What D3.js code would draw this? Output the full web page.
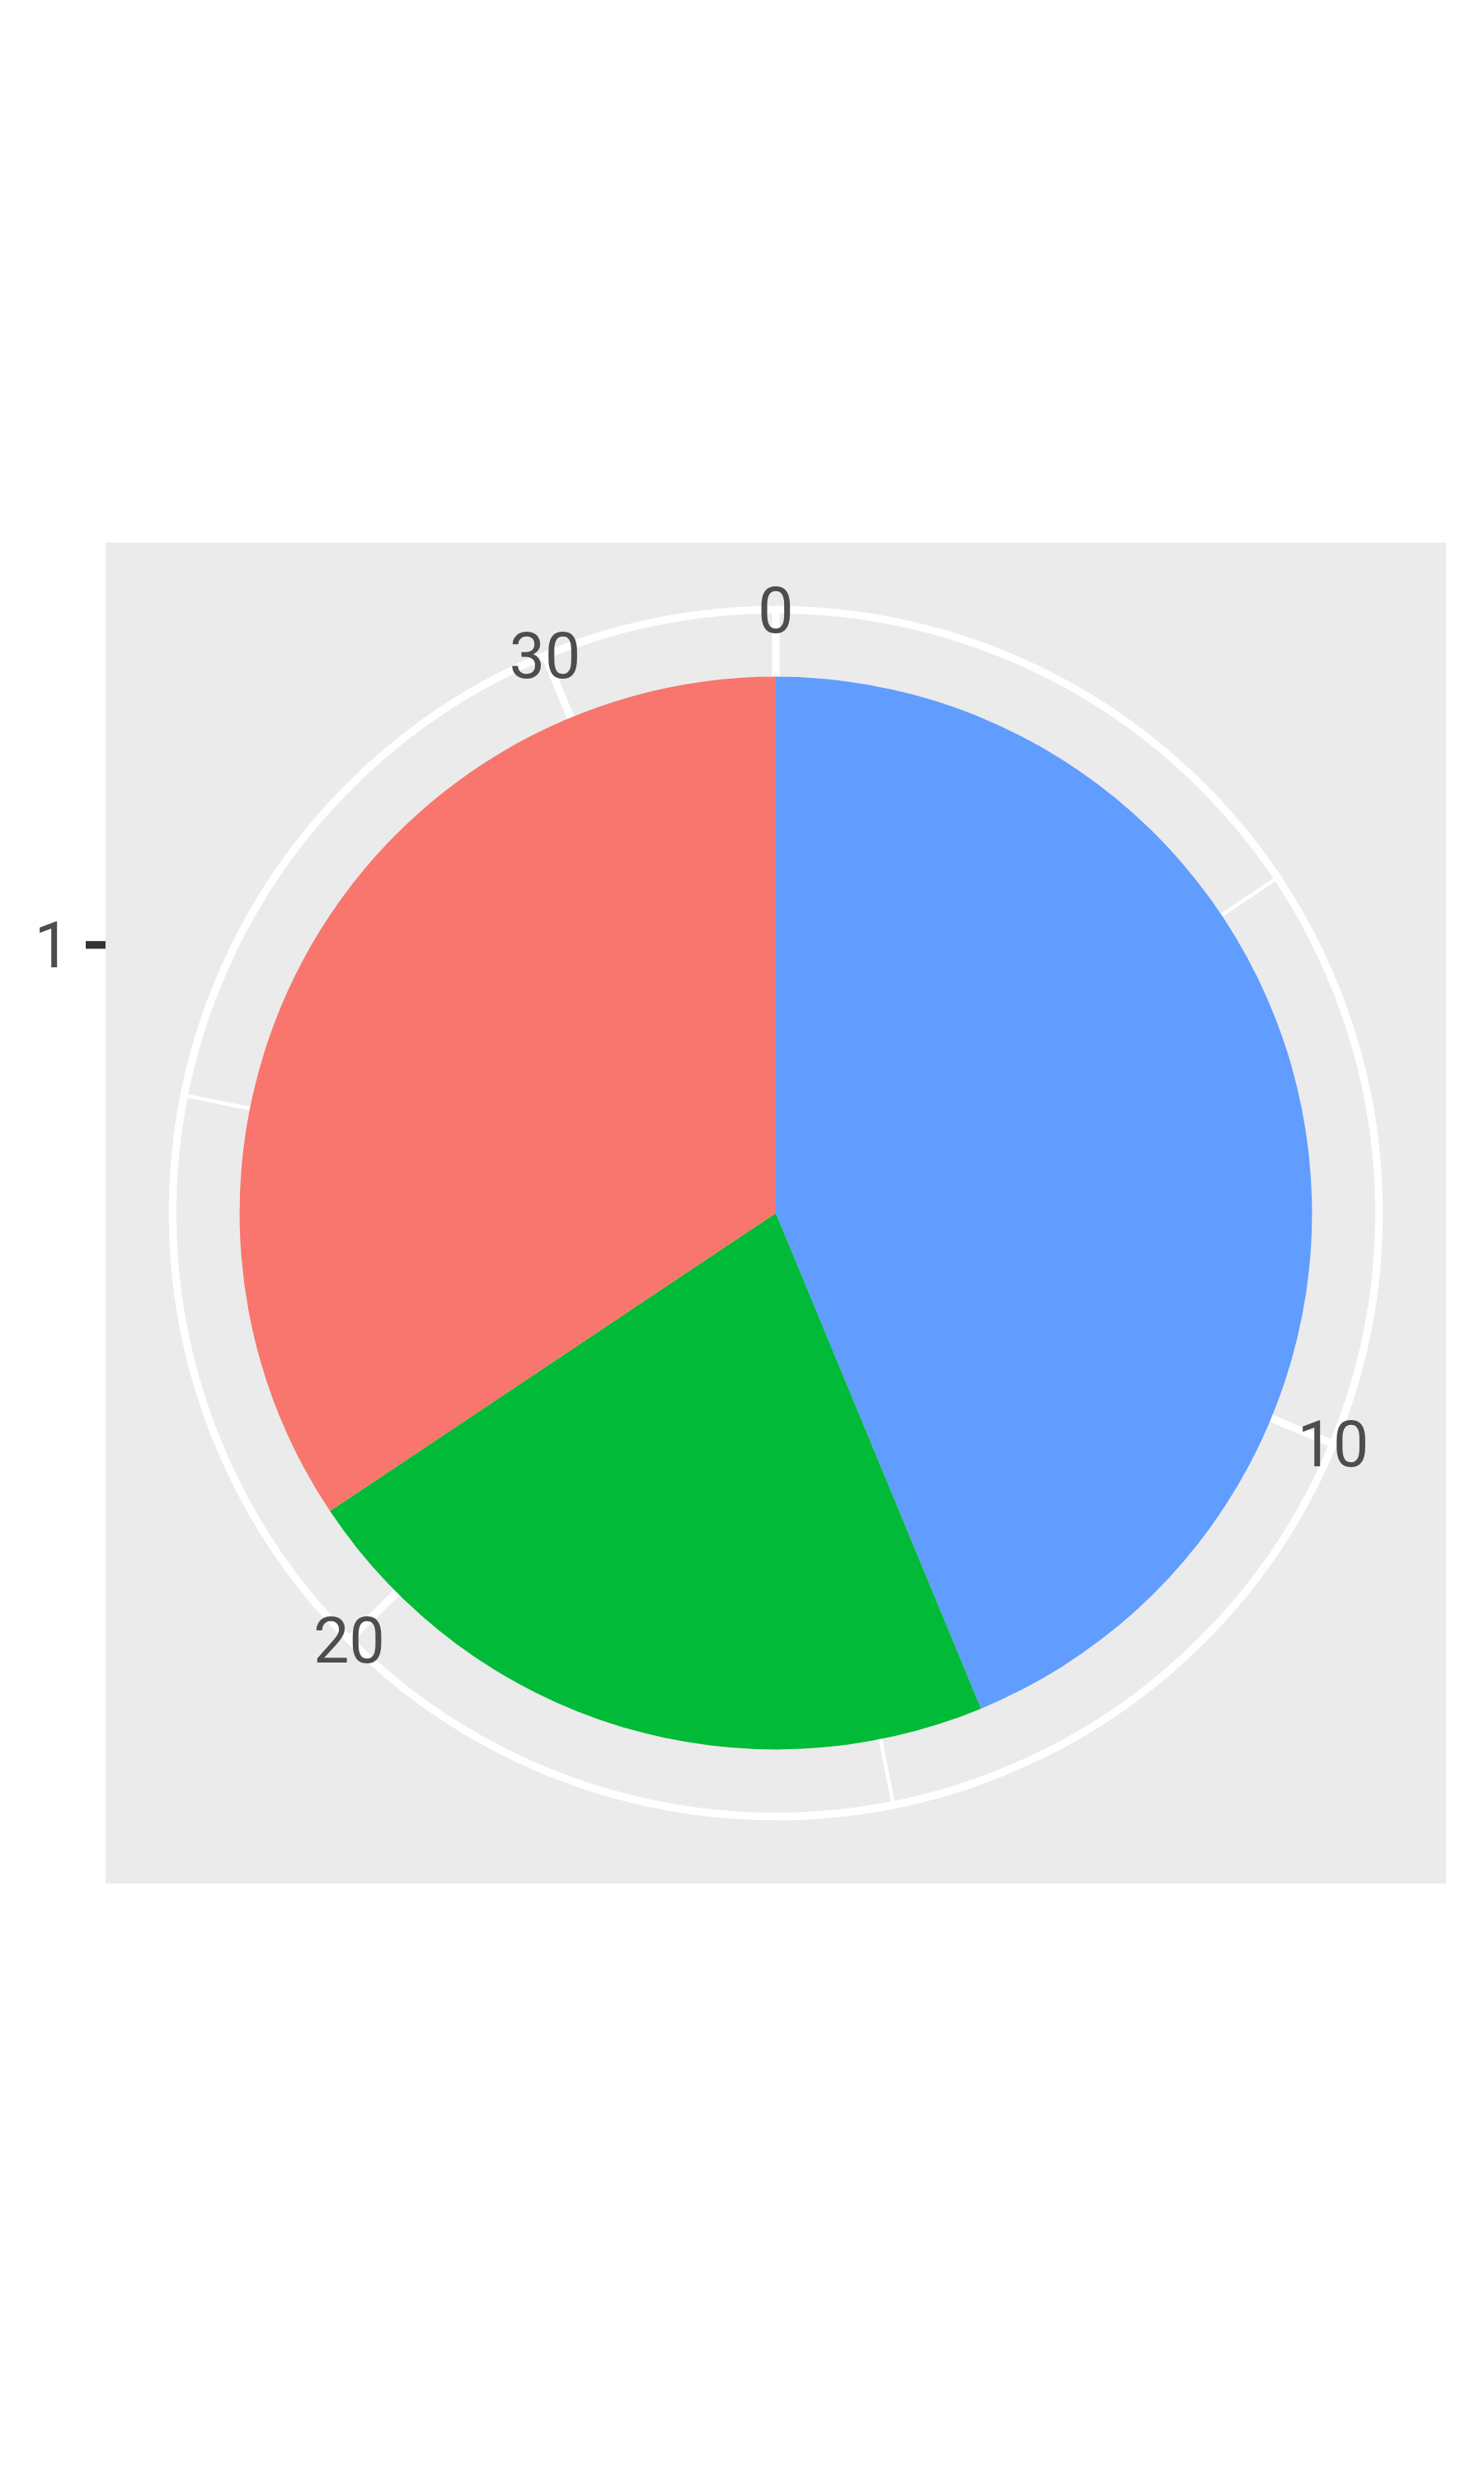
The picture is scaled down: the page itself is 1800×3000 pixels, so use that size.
<!DOCTYPE html>
<html>
<head>
<meta charset="utf-8">
<script src="https://cdn.jsdelivr.net/npm/d3@7"></script>
<style>
  html, body { margin: 0; padding: 0; background: #ffffff; }
  svg { display: block; }
  text { font-family: 'Roboto', 'Liberation Sans', sans-serif; }
</style>
</head>
<body>
<script>
// ---- Data ----
const categories = ["4", "6", "8"];
const counts = [11, 7, 14];
const fillColors = ["#F8766D", "#00BA38", "#619CFF"];
const thetaBreaks = [0, 10, 20, 30];
const thetaMinorBreaks = [5, 15, 25];
const rBreaks = [1];
const rLabels = ["1"];

// ---- Layout ----
const W = 1800, H = 3000;
const panel = { x: 128, y: 658, w: 1626, h: 1626 };
const cx = panel.x + panel.w / 2, cy = panel.y + panel.h / 2;
const unit = panel.w; // npc unit
const fontSize = 77;
const majorW = 9.3, minorW = 4.65;
const tickLen = 24;

const svg = d3.select("body").append("svg")
  .attr("width", W).attr("height", H);

svg.append("rect").attr("width", W).attr("height", H).attr("fill", "#ffffff");

// panel background
svg.append("rect")
  .attr("x", panel.x).attr("y", panel.y)
  .attr("width", panel.w).attr("height", panel.h)
  .attr("fill", "#EBEBEB");

// stack (reverse order, first level on top)
const total = d3.sum(counts);
const stacked = [];
let acc = 0;
for (let i = categories.length - 1; i >= 0; i--) {
  stacked.push({ cat: categories[i], y0: acc, y1: acc + counts[i], color: fillColors[i] });
  acc += counts[i];
}

const theta = d3.scaleLinear().domain([0, total]).range([0, 2 * Math.PI]);
const rScale = d3.scaleLinear().domain([0.5, 1.5]).range([0, 0.4 * unit]);
const outerR = 0.45 * unit;

const g = svg.append("g").attr("transform", `translate(${cx},${cy})`);

// grid: minor theta lines
g.selectAll("line.minor").data(thetaMinorBreaks).enter().append("line")
  .attr("x1", 0).attr("y1", 0)
  .attr("x2", d => outerR * Math.sin(theta(d)))
  .attr("y2", d => -outerR * Math.cos(theta(d)))
  .attr("stroke", "#ffffff").attr("stroke-width", minorW);

// major theta lines
g.selectAll("line.major").data(thetaBreaks).enter().append("line")
  .attr("x1", 0).attr("y1", 0)
  .attr("x2", d => outerR * Math.sin(theta(d)))
  .attr("y2", d => -outerR * Math.cos(theta(d)))
  .attr("stroke", "#ffffff").attr("stroke-width", majorW);

// r circles
const circles = rBreaks.map(d => rScale(d)).concat([outerR]);
g.selectAll("circle.rgrid").data(circles).enter().append("circle")
  .attr("r", d => d).attr("fill", "none")
  .attr("stroke", "#ffffff").attr("stroke-width", majorW);

// pie slices
const arc = d3.arc();
g.selectAll("path.slice").data(stacked).enter().append("path")
  .attr("d", d => arc({
    innerRadius: rScale(0.5), outerRadius: rScale(1.5),
    startAngle: theta(d.y0), endAngle: theta(d.y1)
  }))
  .attr("fill", d => d.color);

// theta labels
g.selectAll("text.theta").data(thetaBreaks).enter().append("text")
  .attr("x", d => outerR * Math.sin(theta(d)))
  .attr("y", d => -outerR * Math.cos(theta(d)) + 0.356 * fontSize)
  .attr("text-anchor", "middle")
  .attr("font-size", fontSize)
  .attr("fill", "#4D4D4D")
  .text(d => d);

// r axis (left)
rBreaks.forEach((b, i) => {
  const y = cy - rScale(b);
  svg.append("line")
    .attr("x1", panel.x - tickLen).attr("x2", panel.x)
    .attr("y1", y).attr("y2", y)
    .attr("stroke", "#333333").attr("stroke-width", majorW);
  svg.append("text")
    .attr("x", panel.x - tickLen - 19)
    .attr("y", y + 0.356 * fontSize)
    .attr("text-anchor", "end")
    .attr("font-size", fontSize)
    .attr("fill", "#4D4D4D")
    .text(rLabels[i]);
});
</script>
</body>
</html>
